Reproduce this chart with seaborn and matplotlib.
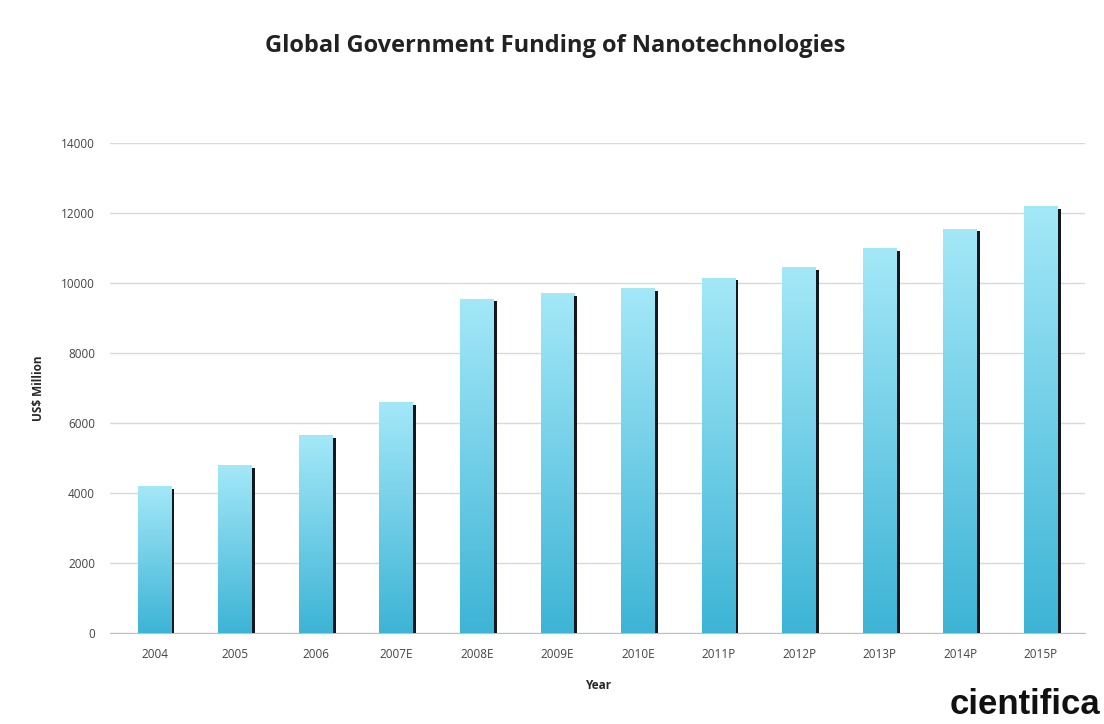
import numpy as np
import pandas as pd
import seaborn as sns
import matplotlib.pyplot as plt
from matplotlib.patches import Rectangle
from matplotlib.colors import LinearSegmentedColormap

# datos
anios = ["2004", "2005", "2006", "2007E", "2008E", "2009E", "2010E",
         "2011P", "2012P", "2013P", "2014P", "2015P"]
fondos = [4200, 4800, 5650, 6600, 9550, 9700, 9850, 10150, 10450, 11000, 11550, 12200]

df = pd.DataFrame({"anio": anios, "fondos": fondos})

sns.set_style("white")
plt.rcParams['font.family'] = ['Open Sans', 'DejaVu Sans']

fig = plt.figure(figsize=(11.04, 7.24), dpi=100)
ax = fig.add_axes([0.1, 0.1257, 0.883, 0.677])

ax = sns.barplot(data=df, x="anio", y="fondos", color="#5cc8e6", width=0.42, ax=ax, zorder=3)

# degradado y sombra de cada barra
cmap = LinearSegmentedColormap.from_list("azul", ["#3db4d6", "#a4e8f8"])
grad = np.linspace(0, 1, 256).reshape(-1, 1)
for p in list(ax.patches):
    x0, w, h = p.get_x(), p.get_width(), p.get_height()
    im = ax.imshow(grad, cmap=cmap, aspect="auto", origin="lower",
                   extent=[x0, x0 + w, 0, h], zorder=3)
    im.set_clip_path(p)
    ax.add_patch(Rectangle((x0 + w, 0), 0.035, h - 80, color="#111820", zorder=3, lw=0))
    p.set_alpha(0)

ax.set_xlim(-0.55, 11.55)
ax.set_ylim(0, 14000)
ax.set_yticks(range(0, 14001, 2000))
ax.yaxis.grid(True, color="#d9d9d9", lw=1, zorder=0)
for s in ["top", "right", "left"]:
    ax.spines[s].set_visible(False)
ax.spines["bottom"].set_color("#bfbfbf")
ax.tick_params(axis="both", labelsize=8.5, labelcolor="#444444", length=0, pad=11)

ax.set_xlabel("Year", fontsize=8.5, fontweight="bold", labelpad=13)
ax.set_ylabel("US$ Million", fontsize=8.5, fontweight="bold", labelpad=12)

fig.text(0.503, 0.937, "Global Government Funding of Nanotechnologies",
         ha="center", va="center", fontsize=17, fontweight="bold", color="#222222")
fig.text(0.997, 0.027, "cientifica", ha="right", va="center",
         fontsize=25, fontweight="bold", color="#111111", family="Liberation Sans")

fig.savefig("out.png", dpi=100)
